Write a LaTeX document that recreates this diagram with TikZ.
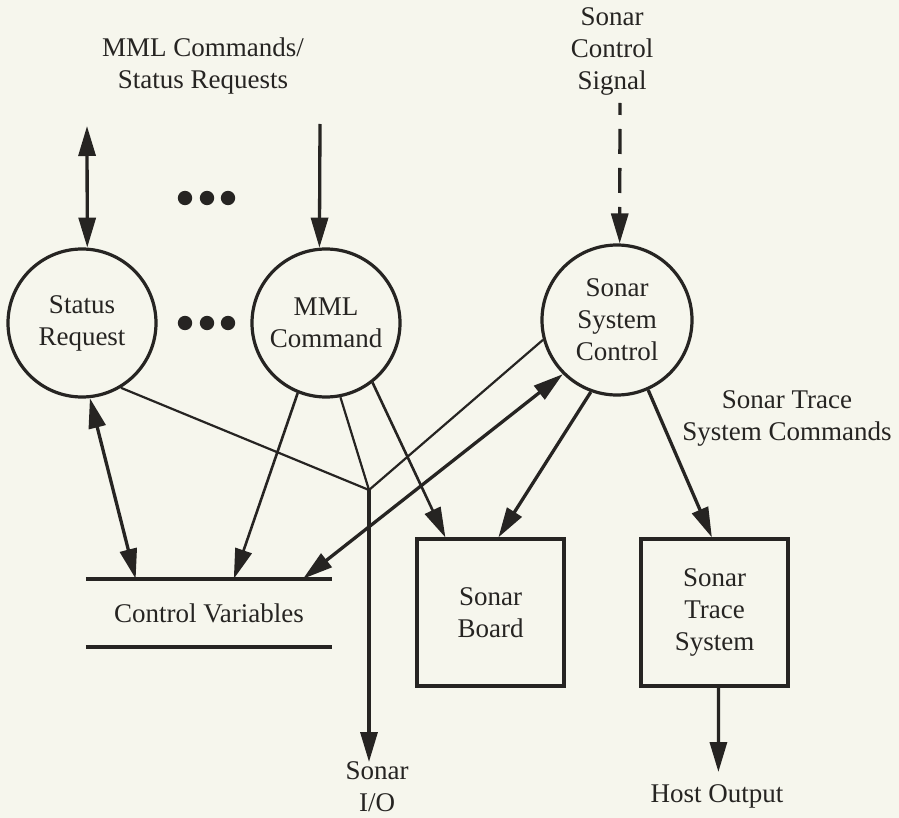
\documentclass[tikz,border=0pt]{standalone}
\usepackage{fontspec}
\setmainfont{Liberation Serif}
\usetikzlibrary{arrows.meta}
\definecolor{paper}{RGB}{246,246,237}
\definecolor{ink}{RGB}{38,36,34}

\begin{document}
\begin{tikzpicture}[x=1pt,y=-1pt,
  >={Triangle[length=30pt,width=17pt]},
  every node/.style={text=ink, font=\fontsize{27}{32}\selectfont, align=center, inner sep=0pt},
  proc/.style={circle, draw=ink, line width=3.2pt, minimum size=148pt},
  unit/.style={rectangle, draw=ink, line width=3.2pt, minimum width=147pt, minimum height=147pt},
  store/.style={rectangle, minimum width=246pt, minimum height=68pt},
  storeline/.style={draw=ink, line width=4pt},
  heavy/.style={draw=ink, line width=3.3pt},
  medium/.style={draw=ink, line width=2.6pt},
  light/.style={draw=ink, line width=2.2pt},
  signal/.style={heavy, dash pattern=on 25pt off 14pt, dash phase=13pt},
  label/.style={anchor=base},
  dot/.style={fill=ink}
]
% page
\fill[paper] (0,0) rectangle (899,818);
\useasboundingbox (0,0) rectangle (899,818);

% processes
\node[proc] (sr)  at (82,323)  {\fontsize{27}{26}\selectfont Status\\Request};
\node[proc] (mml) at (326,323) {\fontsize{27}{28}\selectfont MML\\Command};
\node[proc, minimum size=150pt] (ssc) at (617,320) {\fontsize{27}{31.5}\selectfont Sonar\\System\\Control};

% units
\node[unit] (board) at (490.5,612.5) {\fontsize{27}{31}\selectfont Sonar\\Board};
\node[unit] (trace) at (714.5,612.5) {\fontsize{27}{28.5}\selectfont Sonar\\Trace\\System};

% data store
\node[store] (cv) at (209,613) {Control Variables};
\draw[storeline] (cv.north west) -- (cv.north east);
\draw[storeline] (cv.south west) -- (cv.south east);

% external labels (base anchor sits on the last line)
\node[label] (lblIn)   at (203,89)  {MML Commands/\\Status Requests};
\node[label] (lblSig)  at (612,90)  {Sonar\\Control\\Signal};
\node[label] (lblCmd)  at (787,440) {\fontsize{27}{27}\selectfont Sonar Trace\\System Commands};
\node[label] (lblHost) at (717,802) {Host Output};
\node[label] (lblIO)   at (377,811) {\fontsize{27}{26}\selectfont Sonar\\I/O};

% free ends and the branch point
\coordinate (srIn)    at (87,126);
\coordinate (mmlIn)   at (320,124);
\coordinate (sscIn)   at (620,103);
\coordinate (j)       at (369,490);
\coordinate (ioEnd)   at (369,762);
\coordinate (hostEnd) at (718.4,772);

% ellipsis dots
\foreach \x in {185,207,228} {
  \fill[dot] (\x,198) circle (7.2pt);
  \fill[dot] (\x,323) circle (7.2pt);
}

% incoming flows
\draw[heavy,<->] (srIn) -- (sr.86);
\draw[heavy,->] (mmlIn) -- (mml.95);
\draw[signal,->] (sscIn) -- (ssc.88);

% flows to the branch point and sonar I/O
\draw[light] (sr.-59) -- (j);
\draw[light] (mml.-79) -- (j);
\draw[light] (ssc.195) -- (j);
\draw[heavy,->] (j) -- (ioEnd);

% flows to control variables
\draw[heavy,<->] (sr.-84) -- (cv.155.3);
\draw[medium,->] (mml.248) -- (cv.54.8);
\draw[heavy,<->] (ssc.225.5) -- (cv.20.1);

% flows to the sonar board and trace system
\draw[medium,->] (mml.-52) -- (board.121.8);
\draw[heavy,->] (ssc.250) -- (board.84.2);
\draw[heavy,->] (ssc.294.5) -- (trace.92);
\draw[heavy,->] (trace.-87) -- (hostEnd);
\end{tikzpicture}
\end{document}
